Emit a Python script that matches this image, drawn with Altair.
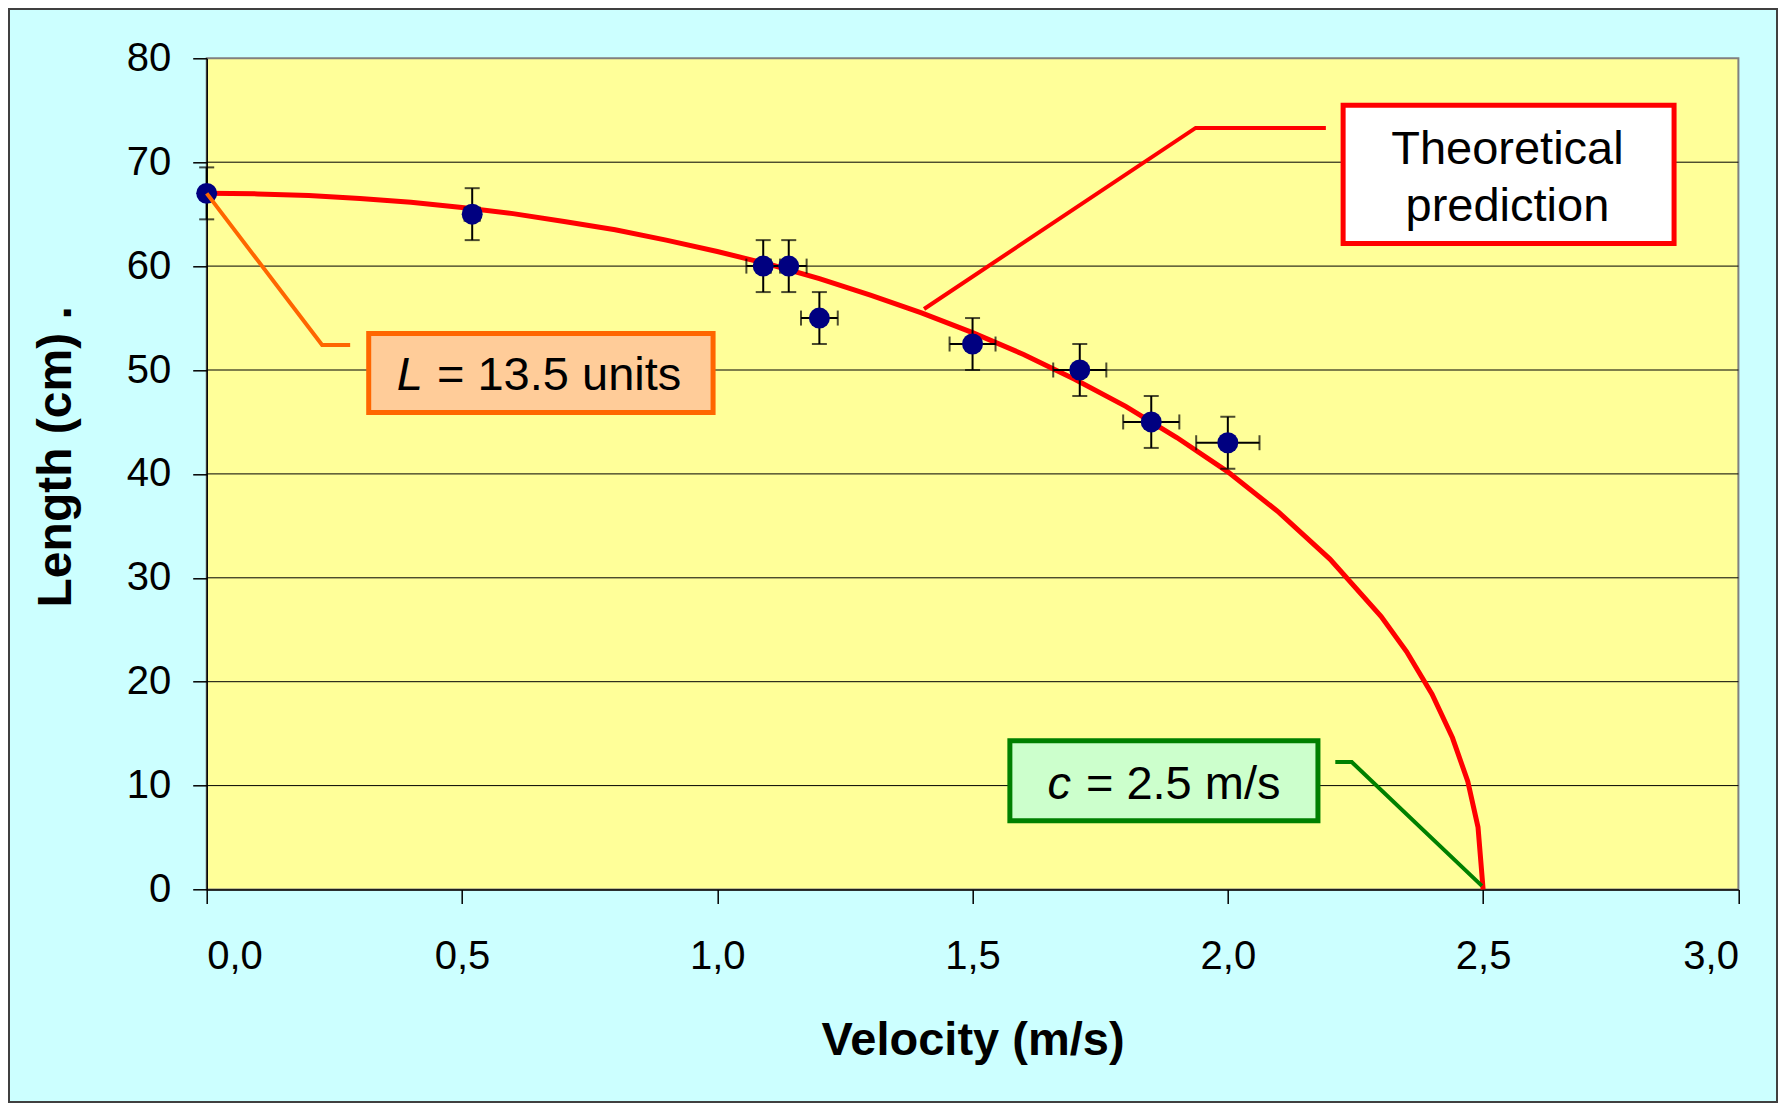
import altair as alt
import pandas as pd

# ---------------- data ----------------
velocity = [0.00, 0.52, 1.09, 1.14, 1.20, 1.50, 1.71, 1.85, 2.00]
length = [67.0, 65.0, 60.0, 60.0, 55.0, 52.5, 50.0, 45.0, 43.0]
length_err = [2.5, 2.5, 2.5, 2.5, 2.5, 2.5, 2.5, 2.5, 2.5]
velocity_err = [0.0, 0.015, 0.033, 0.035, 0.036, 0.045, 0.052, 0.055, 0.062]

theory_v = [0.0, 0.1, 0.2, 0.3, 0.4, 0.5, 0.6, 0.7, 0.8, 0.9, 1.0, 1.1, 1.2,
            1.3, 1.4, 1.5, 1.6, 1.7, 1.8, 1.9, 2.0, 2.1, 2.2, 2.3, 2.35,
            2.4, 2.44, 2.47, 2.49, 2.5]
theory_L = [67.0, 66.95, 66.8, 66.5, 66.15, 65.65, 65.05, 64.3, 63.5, 62.5,
            61.4, 60.2, 58.8, 57.2, 55.5, 53.6, 51.5, 49.1, 46.5, 43.5, 40.2,
            36.3, 31.8, 26.3, 22.9, 18.8, 14.6, 10.4, 6.0, 0.0]

x_ticks = [0.0, 0.5, 1.0, 1.5, 2.0, 2.5, 3.0]
y_ticks = [0, 10, 20, 30, 40, 50, 60, 70, 80]
grid_lines = [10, 20, 30, 40, 50, 60, 70]

x_title = "Velocity (m/s)"
y_title = "Length (cm) ."

# ---------------- layout ----------------
PAD_L, PAD_T = 198.7, 50.3
W, H = 1531.7, 831.2
PAD_R = 1770 - PAD_L - W
PAD_B = 1095 - PAD_T - H
FONT = "Liberation Sans"

xscale = alt.Scale(domain=[0, 3], nice=False, zero=False)
yscale = alt.Scale(domain=[0, 80], nice=False, zero=False)

xaxis = alt.Axis(values=x_ticks, title=x_title, grid=False,
                 labelExpr="replace(format(datum.value, '.1f'), '.', ',')",
                 labelFontSize=40, labelPadding=33, tickSize=14,
                 titleFontSize=47, titleFontWeight="bold",
                 titleBaseline="alphabetic", titleY=165)
yaxis = alt.Axis(values=y_ticks, title=y_title, grid=False, format="d",
                 labelFontSize=40, labelPadding=22, tickSize=14,
                 titleFontSize=48, titleFontWeight="bold", titleAngle=270,
                 titleBaseline="alphabetic", titleAlign="center",
                 titleX=-136.7, titleY=398)


def X(f):
    return alt.X(f, type="quantitative", scale=xscale, axis=xaxis)


def Y(f):
    return alt.Y(f, type="quantitative", scale=yscale, axis=yaxis)


pts = pd.DataFrame({"x": velocity, "y": length,
                    "ey": length_err, "ex": velocity_err})
pts["ylo"] = pts["y"] - pts["ey"]
pts["yhi"] = pts["y"] + pts["ey"]
pts["xlo"] = pts["x"] - pts["ex"]
pts["xhi"] = pts["x"] + pts["ex"]
xpts = pts[pts["ex"] > 0]

theory = pd.DataFrame({"x": theory_v, "y": theory_L,
                       "i": list(range(len(theory_v)))})
grid = pd.DataFrame({"y": grid_lines})

# frame of whole picture
frame = alt.Chart(pd.DataFrame({"a": [0]})).mark_rect(
    fillOpacity=0, stroke="#404040", strokeWidth=2, clip=False
).encode(x=alt.value(-PAD_L + 1), x2=alt.value(W + PAD_R - 1),
         y=alt.value(-PAD_T + 1), y2=alt.value(H + PAD_B - 1))

grid_layer = alt.Chart(grid).mark_rule(color="black", strokeWidth=1).encode(
    y=Y("y"))

curve = alt.Chart(theory).mark_line(color="#FF0000", strokeWidth=5).encode(
    x=X("x"), y=Y("y"), order="i:Q")

ybar = alt.Chart(pts).mark_rule(color="black", strokeWidth=2).encode(
    x=X("x"), y=Y("ylo"), y2="yhi")
ycap_lo = alt.Chart(pts).mark_tick(orient="horizontal", size=15, thickness=2,
                                   color="black").encode(x=X("x"), y=Y("ylo"))
ycap_hi = alt.Chart(pts).mark_tick(orient="horizontal", size=15, thickness=2,
                                   color="black").encode(x=X("x"), y=Y("yhi"))
xbar = alt.Chart(xpts).mark_rule(color="black", strokeWidth=2).encode(
    x=X("xlo"), x2="xhi", y=Y("y"))
xcap_lo = alt.Chart(xpts).mark_tick(orient="vertical", size=15, thickness=2,
                                    color="black").encode(x=X("xlo"), y=Y("y"))
xcap_hi = alt.Chart(xpts).mark_tick(orient="vertical", size=15, thickness=2,
                                    color="black").encode(x=X("xhi"), y=Y("y"))

points = alt.Chart(pts).mark_circle(size=440, color="#000080",
                                    opacity=1).encode(x=X("x"), y=Y("y"))

# ---------------- callouts ----------------
def leader(xs, ys, color, width):
    df = pd.DataFrame({"x": xs, "y": ys, "i": list(range(len(xs)))})
    return alt.Chart(df).mark_line(color=color, strokeWidth=width).encode(
        x=X("x"), y=Y("y"), order="i:Q")


def box(x0, x1, y0, y1, fill, stroke):
    df = pd.DataFrame({"x": [x0], "x2": [x1], "y": [y0], "y2": [y1]})
    return alt.Chart(df).mark_rect(fill=fill, stroke=stroke,
                                   strokeWidth=5).encode(
        x=X("x"), x2="x2", y=Y("y"), y2="y2")


def label(xs, ys, texts, align, style="normal"):
    df = pd.DataFrame({"x": xs, "y": ys, "t": texts})
    return alt.Chart(df).mark_text(font=FONT, fontSize=47, align=align,
                                   baseline="alphabetic", fontStyle=style,
                                   color="black").encode(
        x=X("x"), y=Y("y"), text="t:N")


orange_leader = leader([0.0, 0.226, 0.281], [67.0, 52.4, 52.4], "#FF6600", 4)
orange_box = box(0.3173, 0.9918, 53.51, 45.91, "#FFCC99", "#FF6600")
orange_L = label([0.3723], [48.07], ["L"], "left", "italic")
orange_rest = label([0.451], [48.07], ["= 13.5 units"], "left")

red_leader = leader([1.405, 1.937, 2.192], [55.87, 73.3, 73.3], "#FF0000", 4)
red_box = box(2.2258, 2.8740, 75.49, 62.18, "white", "#FF0000")
red_text = label([2.5476, 2.5476], [69.83, 64.37],
                 ["Theoretical", "prediction"], "center")

green_leader = leader([2.2105, 2.2427, 2.4976], [12.27, 12.27, 0.35],
                      "#008000", 4)
green_box = box(1.5731, 2.1765, 14.31, 6.61, "#CCFFCC", "#008000")
green_c = label([1.647], [8.71], ["c"], "left", "italic")
green_rest = label([1.722], [8.71], ["= 2.5 m/s"], "left")

chart = alt.layer(
    frame, grid_layer, curve,
    ybar, ycap_lo, ycap_hi, xbar, xcap_lo, xcap_hi, points,
    orange_leader, red_leader, green_leader,
    orange_box, red_box, green_box,
    orange_L, orange_rest, red_text, green_c, green_rest,
).properties(
    width=W, height=H,
    padding={"left": PAD_L, "top": PAD_T, "right": PAD_R, "bottom": PAD_B},
    autosize=alt.AutoSizeParams(type="none"),
    background="#CCFFFF",
).configure_view(
    fill="#FFFF99", stroke="#808080", strokeWidth=2
).configure_axis(
    labelFont=FONT, titleFont=FONT, labelColor="black", titleColor="black",
    domainColor="black", domainWidth=1.5, tickColor="black", tickWidth=1.5,
)

chart.save("out.html", embed_options={"renderer": "svg", "actions": False})
